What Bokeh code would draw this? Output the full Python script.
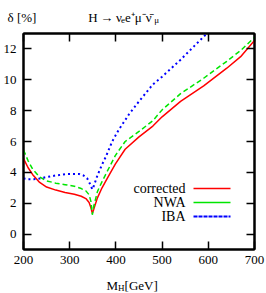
from bokeh.plotting import figure
from bokeh.models import Range1d, LinearAxis, FixedTicker, Label, BoxAnnotation
from bokeh.embed import file_html
from bokeh.resources import INLINE

# ---- data ----
mass = [200, 210, 220, 235, 250, 270, 290, 310, 325, 335, 342, 346, 349, 352,
        360, 370, 381, 399, 420, 450, 480, 500, 540, 590, 640, 670, 700]
corrected = [4.9, 4.3, 3.85, 3.35, 3.05, 2.85, 2.7, 2.58, 2.45, 2.3, 2.05, 1.7, 1.35, 1.6,
             2.35, 3.0, 3.6, 4.55, 5.5, 6.3, 7.0, 7.6, 8.6, 9.6, 10.75, 11.5, 12.55]
nwa = [5.45, 4.75, 4.2, 3.7, 3.45, 3.3, 3.2, 3.1, 2.95, 2.8, 2.55, 2.1, 1.25, 1.8,
       2.75, 3.4, 4.05, 5.1, 6.0, 6.65, 7.35, 8.05, 9.1, 10.1, 11.2, 11.9, 12.75]
mass_iba = [200, 210, 222, 235, 250, 270, 290, 310, 320, 330, 338, 344, 349, 352,
            360, 370, 378, 392, 406, 428, 450, 480, 500, 540, 570, 597]
iba = [3.6, 3.55, 3.55, 3.6, 3.7, 3.8, 3.88, 3.9, 3.9, 3.8, 3.6, 3.25, 2.9, 3.1,
       3.8, 4.5, 5.0, 6.0, 6.75, 7.75, 8.6, 9.7, 10.2, 11.3, 12.2, 13.0]
x_ticks = [200, 300, 400, 500, 600, 700]
y_ticks = [0, 2, 4, 6, 8, 10, 12]
series_names = ["corrected", "NWA", "IBA"]
series_colors = ["#ff0000", "#00e600", "#0000ff"]

SERIF = "Liberation Serif"
W, H = 266, 293
FL, FR, FT, FB = 23, 254, 33, 249   # frame edges in page coordinates
X0, X1, Y0, Y1 = 200, 700, -1, 13

p = figure(width=W, height=H, x_range=Range1d(X0, X1), y_range=Range1d(Y0, Y1),
           output_backend="svg", toolbar_location=None,
           min_border_left=FL, min_border_right=W - FR,
           min_border_top=FT, min_border_bottom=H - FB)
p.grid.visible = False
p.outline_line_color = "black"
p.outline_line_width = 2

def style_axis(ax, ticks, show_labels):
    ax.ticker = FixedTicker(ticks=ticks)
    ax.major_tick_in = 8
    ax.major_tick_out = 0
    ax.minor_tick_in = 0
    ax.minor_tick_out = 0
    ax.major_tick_line_width = 1.5
    ax.major_tick_line_color = "black"
    ax.axis_line_width = 2
    ax.axis_line_color = "black"
    if show_labels:
        ax.major_label_text_font = SERIF
        ax.major_label_text_font_size = "13px"
        ax.major_label_text_color = "black"
        ax.major_label_standoff = 6
    else:
        ax.major_label_text_font_size = "1px"
        ax.major_label_text_color = None
        ax.major_label_standoff = 0

style_axis(p.xaxis[0], x_ticks, True)
style_axis(p.yaxis[0], y_ticks, True)
p.yaxis[0].major_label_standoff = 7
top = LinearAxis()
style_axis(top, x_ticks, False)
p.add_layout(top, "above")
right = LinearAxis()
style_axis(right, y_ticks, False)
p.add_layout(right, "right")

p.line(mass, corrected, line_color=series_colors[0], line_width=1.5)
p.line(mass, nwa, line_color=series_colors[1], line_width=1.5, line_dash="5 3")
p.line(mass_iba, iba, line_color=series_colors[2], line_width=2, line_dash="2 3")

def dx(X):
    return X0 + (X - FL) / (FR - FL) * (X1 - X0)

def dy(Y):
    return Y0 + (FB - Y) / (FB - FT) * (Y1 - Y0)

def side_label(text, X, Y, place, size=13, style="normal"):
    p.add_layout(Label(x=dx(X), y=dy(Y), text=text,
                       text_font=SERIF, text_font_size=f"{size}px", text_font_style=style,
                       text_align="left", text_baseline="alphabetic", text_color="black"),
                 place)

NB = "\u00a0"
# top row: "δ [%]" and the process H -> nu_e e+ mu- nubar_mu
top_text = ("\u03b4 [%]" + NB * 16 + "H\u2009\u2192\u2009\u03bd" + NB +
            "e\u207a\u03bc\u207b\u03bd\u0304")
side_label(top_text, 7, 16.7, "above")
side_label("e" + NB * 13 + "\u03bc", 120.5, 19.7, "above", size=9)

# x axis title M_H [GeV]
side_label("M" + NB * 2 + "[GeV]", 106, 285, "below")
side_label("H", 117.5, 287.5, "below", size=9)

# legend (text right-aligned, sample line to the right)
leg_y = [188, 202, 216]
dashes = ["solid", "5 3", "2 3"]
widths = [1.5, 1.5, 2]
for name, col, yy, dsh, w in zip(series_names, series_colors, leg_y, dashes, widths):
    p.add_layout(Label(x=185 - FL, y=FB - yy, x_units="screen", y_units="screen", text=name,
                       text_font=SERIF, text_font_size="14px", text_align="right",
                       text_baseline="middle", text_color="black"))
    p.add_layout(BoxAnnotation(left=193 - FL, right=230 - FL, bottom=FB - yy, top=FB - yy,
                               left_units="screen", right_units="screen",
                               bottom_units="screen", top_units="screen",
                               fill_alpha=0, line_color=col, line_alpha=1.0,
                               line_width=w, line_dash=dsh))

open("out.html", "w").write(file_html(p, INLINE))
